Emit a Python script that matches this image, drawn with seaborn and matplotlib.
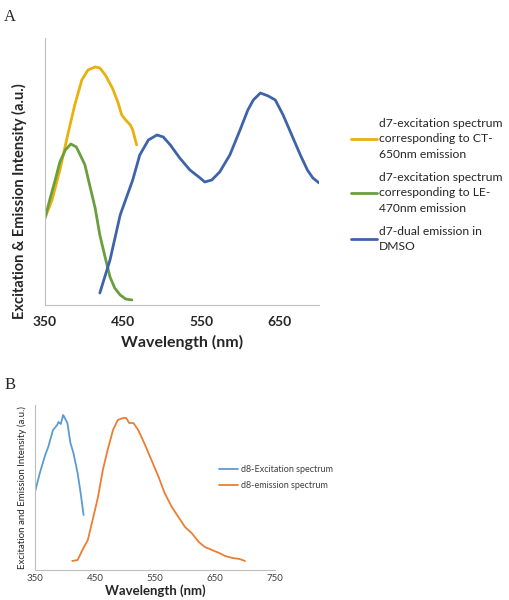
import matplotlib
matplotlib.use("Agg")
import matplotlib.pyplot as plt
import numpy as np
import pandas as pd
import seaborn as sns

sns.set_style("white")
plt.rcParams['font.family'] = ['Lato', 'DejaVu Sans']

# ---- panel A data (wavelength nm, intensity a.u.) ----
ct_nm = [350, 359, 369, 379, 388, 397, 405, 414, 420, 427, 436, 443, 448, 453, 459, 462, 467]
ct_int = [87, 105, 135, 170, 200, 225, 235, 238, 237, 230, 217, 203, 190, 185, 180, 175, 160]

le_nm = [350, 356, 363, 369, 376, 383, 390, 395, 401, 407, 414, 420, 427, 433, 439, 446, 453, 461]
le_int = [87, 105, 125, 143, 155, 161, 158, 150, 140, 120, 97, 70, 47, 28, 17, 10, 6, 5]

dual_nm = [420, 433, 446, 462, 471, 482, 493, 501, 510, 522, 535, 548, 554, 563, 573, 586,
           599, 609, 616, 625, 635, 644, 654, 665, 676, 685, 692, 700]
dual_int = [12, 45, 90, 125, 150, 165, 170, 168, 160, 147, 135, 127, 123, 125, 133, 150,
            175, 195, 205, 212, 209, 205, 190, 170, 150, 135, 127, 122]

# ---- panel B data ----
d8ex_nm = [350, 358, 367, 372, 380, 387, 389, 393, 396, 397, 404, 409, 414, 421, 426, 431]
d8ex_int = [78, 97, 115, 123, 140, 145, 148, 146, 153, 155, 147, 127, 117, 97, 77, 55]

d8em_nm = [412, 421, 429, 438, 446, 455, 463, 471, 480, 488, 497, 502, 507, 514, 522, 532,
           544, 556, 566, 578, 589, 600, 611, 623, 633, 645, 657, 667, 679, 691, 700]
d8em_int = [9, 10, 20, 30, 50, 73, 100, 120, 140, 150, 152, 152, 147, 147, 140, 127,
            110, 93, 77, 63, 53, 43, 37, 28, 23, 20, 17, 14, 12, 11, 9]

labels_A = ["d7-excitation spectrum\ncorresponding to CT-\n650nm emission",
            "d7-excitation spectrum\ncorresponding to LE-\n470nm emission",
            "d7-dual emission in\nDMSO"]
colors_A = ["#E8B10E", "#6A9E3E", "#3F63AB"]
labels_B = ["d8-Excitation spectrum", "d8-emission spectrum"]
colors_B = ["#5B9BD5", "#ED7D31"]

dfA = pd.concat([
    pd.DataFrame({"nm": ct_nm, "val": ct_int, "s": labels_A[0]}),
    pd.DataFrame({"nm": le_nm, "val": le_int, "s": labels_A[1]}),
    pd.DataFrame({"nm": dual_nm, "val": dual_int, "s": labels_A[2]}),
])
dfB = pd.concat([
    pd.DataFrame({"nm": d8ex_nm, "val": d8ex_int, "s": labels_B[0]}),
    pd.DataFrame({"nm": d8em_nm, "val": d8em_int, "s": labels_B[1]}),
])

fig = plt.figure(figsize=(5.09, 6.0), dpi=100)
axA = fig.add_axes([0.0884, 0.4917, 0.5386, 0.445])
axB = fig.add_axes([0.0688, 0.05, 0.4715, 0.275])

# panel A
sns.lineplot(data=dfA, x="nm", y="val", hue="s", palette=colors_A, sort=False,
             estimator=None, linewidth=2, ax=axA)
axA.set_xlim(350, 700)
axA.set_ylim(0, 267)
axA.set_xticks([350, 450, 550, 650])
axA.set_yticks([])
axA.tick_params(axis="x", length=0, pad=8, labelsize=10)
for t in axA.get_xticklabels():
    t.set_fontweight("bold")
axA.set_xlabel("Wavelength (nm)", fontsize=11.5, fontweight="bold", labelpad=5)
axA.set_ylabel("Excitation & Emission Intensity (a.u.)", fontsize=10.5, fontweight="bold")
axA.yaxis.set_label_coords(-0.065, 0.39)
for side in ["top", "right"]:
    axA.spines[side].set_visible(False)
for side in ["left", "bottom"]:
    axA.spines[side].set_color("#BFBFBF")
legA = axA.legend(loc="upper left", bbox_to_anchor=(1.1, 0.72), frameon=False, fontsize=8.7,
                  handlelength=2.1, handletextpad=0.2, labelspacing=1.0, borderaxespad=0)
for t in legA.get_texts():
    t.set_linespacing(1.5)

# panel B
sns.lineplot(data=dfB, x="nm", y="val", hue="s", palette=colors_B, sort=False,
             estimator=None, linewidth=1.3, ax=axB)
axB.set_xlim(350, 750)
axB.set_ylim(0, 165)
axB.set_xticks([350, 450, 550, 650, 750])
axB.set_yticks([])
axB.tick_params(axis="x", length=0, pad=3, labelsize=7, labelcolor="#404040")
axB.set_xlabel("Wavelength (nm)", fontsize=9.5, fontweight="bold", labelpad=1)
axB.set_ylabel("Excitation and Emission Intensity (a.u.)", fontsize=7, labelpad=6)
for side in ["top", "right"]:
    axB.spines[side].set_visible(False)
for side in ["left", "bottom"]:
    axB.spines[side].set_color("#BFBFBF")
legB = axB.legend(loc="upper left", bbox_to_anchor=(0.75, 0.66), frameon=False, fontsize=6.5,
                  handlelength=2.2, handletextpad=0.3, labelspacing=0.8, borderaxespad=0)
for t in legB.get_texts():
    t.set_color("#404040")

fig.text(0.008, 0.985, "A", fontsize=12, family="Liberation Serif", va="top")
fig.text(0.008, 0.372, "B", fontsize=12, family="Liberation Serif", va="top")

fig.savefig("out.png", dpi=100)
